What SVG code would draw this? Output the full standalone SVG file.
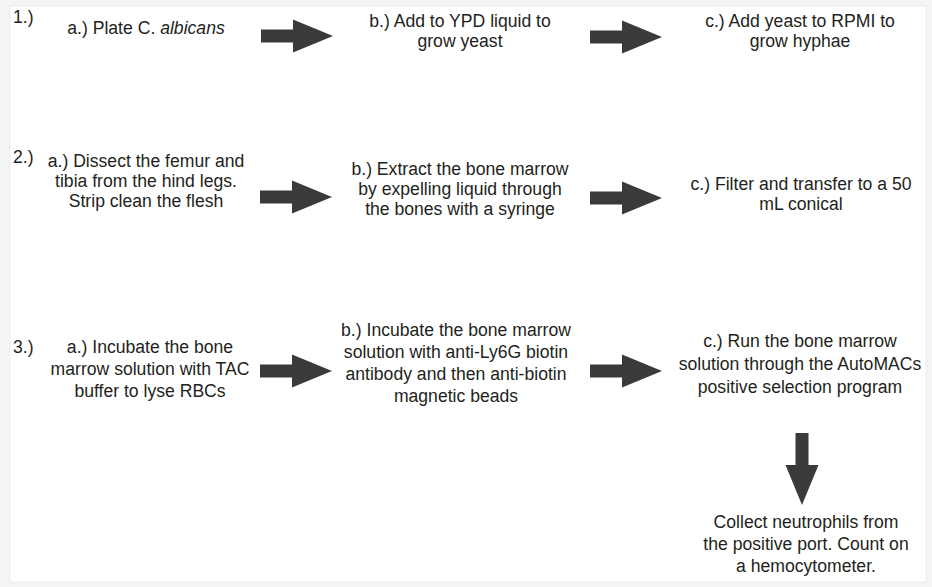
<svg xmlns="http://www.w3.org/2000/svg" xmlns:xlink="http://www.w3.org/1999/xlink" width="932" height="587" viewBox="0 0 932 587">
  <style>
    text { font-family: "Liberation Sans", Arial, sans-serif; font-size: 17.6px; fill: #231f20; }
    .c { text-anchor: middle; }
    .arrow { fill: #3a3a3a; }
  </style>
  <defs>
    <path id="arr" d="M0,-6.5 H32 V-16.5 L72,0 L32,16.5 V6.5 H0 Z"/>
  </defs>
  <rect x="0" y="0" width="932" height="587" fill="#f4f4f4"/>
  <rect x="10" y="6" width="916" height="576" fill="#ffffff" stroke="#ececec" stroke-width="1"/>

  <g id="label-1"><text x="13" y="23">1.)</text></g>
  <g id="step-1a"><text class="c" x="146" y="34">a.) Plate C. <tspan font-style="italic">albicans</tspan></text></g>
  <g id="step-1b"><text class="c" x="460" y="27">b.) Add to YPD liquid to</text><text class="c" x="460" y="47">grow yeast</text></g>
  <g id="step-1c"><text class="c" x="800" y="27">c.) Add yeast to RPMI to</text><text class="c" x="800" y="47">grow hyphae</text></g>

  <g id="label-2"><text x="13" y="163">2.)</text></g>
  <g id="step-2a"><text class="c" x="146" y="167">a.) Dissect the femur and</text><text class="c" x="146" y="187">tibia from the hind legs.</text><text class="c" x="146" y="207">Strip clean the flesh</text></g>
  <g id="step-2b"><text class="c" x="460" y="175">b.) Extract the bone marrow</text><text class="c" x="460" y="195">by expelling liquid through</text><text class="c" x="460" y="215">the bones with a syringe</text></g>
  <g id="step-2c"><text class="c" x="801" y="190">c.) Filter and transfer to a 50</text><text class="c" x="801" y="210">mL conical</text></g>

  <g id="label-3"><text x="13" y="353">3.)</text></g>
  <g id="step-3a"><text class="c" x="150" y="353">a.) Incubate the bone</text><text class="c" x="150" y="375">marrow solution with TAC</text><text class="c" x="150" y="397">buffer to lyse RBCs</text></g>
  <g id="step-3b"><text class="c" x="456" y="336">b.) Incubate the bone marrow</text><text class="c" x="456" y="358">solution with anti-Ly6G biotin</text><text class="c" x="456" y="380">antibody and then anti-biotin</text><text class="c" x="456" y="402">magnetic beads</text></g>
  <g id="step-3c"><text class="c" x="800" y="347">c.) Run the bone marrow</text><text class="c" x="800" y="370">solution through the AutoMACs</text><text class="c" x="800" y="393">positive selection program</text></g>
  <g id="step-3d"><text class="c" x="806" y="528">Collect neutrophils from</text><text class="c" x="806" y="550">the positive port. Count on</text><text class="c" x="806" y="572">a hemocytometer.</text></g>

  <g id="connectors" class="arrow">
    <use xlink:href="#arr" transform="translate(261,36)"/>
    <use xlink:href="#arr" transform="translate(590,37)"/>
    <use xlink:href="#arr" transform="translate(260,197)"/>
    <use xlink:href="#arr" transform="translate(590,198)"/>
    <use xlink:href="#arr" transform="translate(260,371)"/>
    <use xlink:href="#arr" transform="translate(590,371)"/>
    <use xlink:href="#arr" transform="translate(802,433) rotate(90)"/>
  </g>
</svg>
